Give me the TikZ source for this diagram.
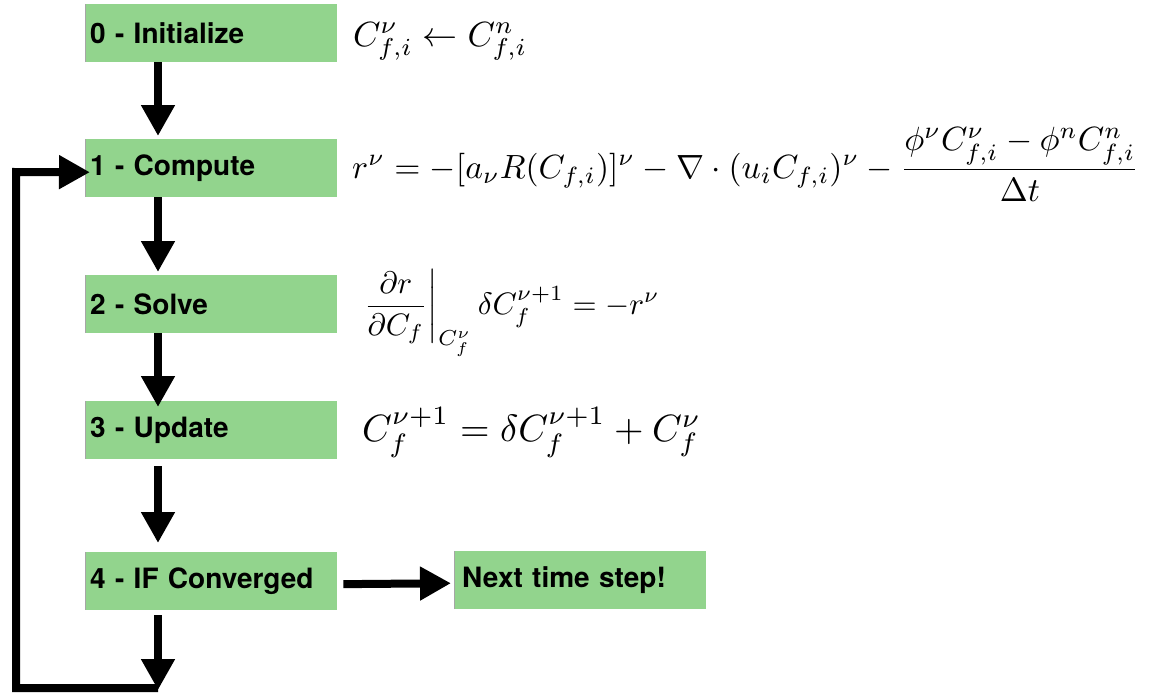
\documentclass[tikz,border=0pt]{standalone}
\usepackage{fontspec}
\usepackage{amsmath}
\usepackage{graphicx}
\newfontfamily\boxfont{TeX Gyre Heros}
\usetikzlibrary{arrows.meta}
\definecolor{boxgreen}{RGB}{146,212,141}
\begin{document}
\begin{tikzpicture}[x=1pt,y=-1pt,
  stepbox/.style={fill=boxgreen, draw=none, minimum width=252pt, minimum height=58pt,
    inner xsep=5pt, text width=242pt, align=left,
    font=\boxfont\bfseries\fontsize{28}{32}\selectfont, anchor=north west},
  edgeline/.style={draw=gray!70, line width=1pt},
  arr/.style={line width=8pt, -{Triangle[width=32pt,length=31pt]}},
  eq/.style={anchor=base west, inner sep=0pt}]
\useasboundingbox (0,0) rectangle (1149,694);

\node[stepbox] (b0) at (85,4) {0 - Initialize};
\node[stepbox] (b1) at (85,139) {1 - Compute};
\node[stepbox] (b2) at (85,275) {2 - Solve};
\node[stepbox] (b3) at (85,401) {3 - Update};
\node[stepbox] (b4) at (85,552) {4 - IF Converged};
\node[stepbox, inner xsep=8pt, text width=236pt] (nx) at (454,551) {Next time step!};

\foreach \b in {b0,b1,b2,b3,b4,nx}
  \draw[edgeline] (\b.north west) -- (\b.south west);

\node[eq] (f0) at (353,46) {\scalebox{3.5}{$C^{\nu}_{f,i} \leftarrow C^{n}_{f,i}$}};
\node[eq] (f1) at (352,178) {\scalebox{3.36}{$r^{\nu} = -[a_{\nu} R(C_{f,i})]^{\nu} - \nabla\cdot(u_i C_{f,i})^{\nu} - \dfrac{\phi^{\nu} C^{\nu}_{f,i} - \phi^{n} C^{n}_{f,i}}{\Delta t}$}};
\node[eq] (f2) at (360,314) {\scalebox{3.1}{$\left.\dfrac{\partial r}{\partial C_f}\right|_{C^{\nu}_f} \delta C^{\nu+1}_f = -r^{\nu}$}};
\node[eq] (f3) at (362,441) {\scalebox{3.8}{$C^{\nu+1}_f = \delta C^{\nu+1}_f + C^{\nu}_f$}};

\coordinate (ax) at (158,0);
\coordinate (lp) at (158,690);
\draw[arr, shorten >=3pt] (b0.south -| ax) -- (b1.north -| ax);
\draw[arr, shorten >=3pt] (b1.south -| ax) -- (b2.north -| ax);
\draw[arr, shorten >=-6pt] (b2.south -| ax) -- (b3.north -| ax);
\draw[arr, shorten <=7pt, shorten >=9pt] (b3.south -| ax) -- (b4.north -| ax);
\draw[arr, shorten <=5pt] (b4.south -| ax) -- (lp);
\draw[arr, line join=miter, shorten >=-5pt] ([yshift=2pt]lp) -- (16,688) -- (16,172) -- ([yshift=-4pt]b1.west);
\draw[arr, shorten <=6pt, shorten >=3pt] ([yshift=-3pt]b4.east) -- ([yshift=-3pt]nx.west);
\end{tikzpicture}
\end{document}
